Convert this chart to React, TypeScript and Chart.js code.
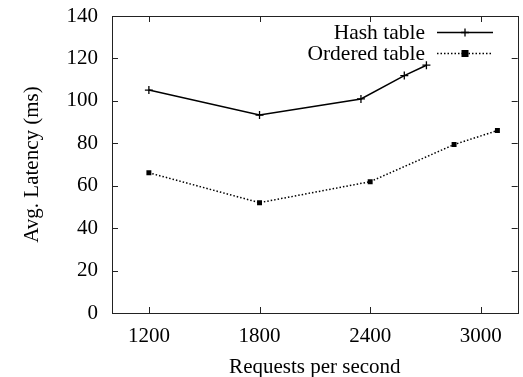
import React, { useEffect, useRef } from "react";
import { Chart, registerables } from "chart.js";

Chart.register(...registerables);

const hashLabel = "Hash table";
const hashX = [1200, 1800, 2350, 2585, 2705];
const hashY = [105.1, 93.3, 100.9, 111.9, 116.8];

const orderedLabel = "Ordered table";
const orderedX = [1200, 1800, 2400, 2855, 3090];
const orderedY = [66.1, 52.0, 61.9, 79.4, 86.0];

const xTicks = [1200, 1800, 2400, 3000];
const xMin = 1000;
const xMax = 3200;
const yMin = 0;
const yMax = 140;
const yStep = 20;

const xTitle = "Requests per second";
const yTitle = "Avg. Latency (ms)";

const FONT = "'Liberation Serif', 'DejaVu Serif', serif";

function drawMarker(ctx: CanvasRenderingContext2D, style: string, x: number, y: number) {
  ctx.save();
  ctx.setLineDash([]);
  ctx.strokeStyle = "#000";
  ctx.fillStyle = "#000";
  ctx.lineWidth = 1.3;
  if (style === "cross") {
    ctx.beginPath();
    ctx.moveTo(x - 4, y);
    ctx.lineTo(x + 4, y);
    ctx.moveTo(x, y - 4);
    ctx.lineTo(x, y + 4);
    ctx.stroke();
  } else {
    ctx.fillRect(x - 3.5, y - 3.5, 7, 7);
  }
  ctx.restore();
}

const framePlugin = {
  id: "frameTicks",
  afterDatasetsDraw(chart: any) {
    const { ctx, chartArea } = chart;
    const { left, right, top, bottom } = chartArea;
    const xs = chart.scales.x;
    const ys = chart.scales.y;
    const tl = 6;
    ctx.save();
    ctx.strokeStyle = "#222";
    ctx.lineWidth = 1;
    ctx.setLineDash([]);
    ctx.beginPath();
    for (const v of xTicks) {
      const px = Math.round(xs.getPixelForValue(v)) + 0.5;
      ctx.moveTo(px, bottom);
      ctx.lineTo(px, bottom - tl);
      ctx.moveTo(px, top);
      ctx.lineTo(px, top + tl);
    }
    for (let v = yMin; v <= yMax; v += yStep) {
      const py = Math.round(ys.getPixelForValue(v)) + 0.5;
      ctx.moveTo(left, py);
      ctx.lineTo(left + tl, py);
      ctx.moveTo(right, py);
      ctx.lineTo(right - tl, py);
    }
    ctx.stroke();
    ctx.strokeRect(Math.round(left) + 0.5, Math.round(top) + 0.5, Math.round(right - left), Math.round(bottom - top));
    ctx.restore();

    // legend
    const rows = [
      { label: hashLabel, dash: [] as number[], marker: "cross", y: 32.5 },
      { label: orderedLabel, dash: [1.5, 2], marker: "rect", y: 53.5 },
    ];
    ctx.save();
    ctx.font = `21.5px ${FONT}`;
    ctx.fillStyle = "#000";
    ctx.textAlign = "right";
    ctx.textBaseline = "middle";
    for (const r of rows) {
      ctx.fillText(r.label, 425, r.y + 1);
      ctx.beginPath();
      ctx.setLineDash(r.dash);
      ctx.lineWidth = 1.5;
      ctx.strokeStyle = "#000";
      ctx.moveTo(437, r.y);
      ctx.lineTo(493, r.y);
      ctx.stroke();
      drawMarker(ctx, r.marker, 465, r.y);
    }
    ctx.restore();
  },
};

export default function App() {
  const ref = useRef<HTMLCanvasElement | null>(null);

  useEffect(() => {
    if (!ref.current) return;
    const chart = new Chart(ref.current, {
      type: "line",
      data: {
        datasets: [
          {
            label: hashLabel,
            data: hashX.map((x, i) => ({ x, y: hashY[i] })),
            borderColor: "#000",
            backgroundColor: "#000",
            borderWidth: 1.5,
            pointStyle: "cross",
            pointRadius: 4,
            pointBorderWidth: 1.3,
            pointBorderColor: "#000",
            tension: 0,
          },
          {
            label: orderedLabel,
            data: orderedX.map((x, i) => ({ x, y: orderedY[i] })),
            borderColor: "#000",
            backgroundColor: "#000",
            borderWidth: 1.5,
            borderDash: [1.5, 2],
            pointStyle: "rect",
            pointRadius: 3.5,
            pointBorderWidth: 0,
            pointBackgroundColor: "#000",
            tension: 0,
          },
        ],
      },
      options: {
        animation: false,
        responsive: false,
        maintainAspectRatio: false,
        layout: { padding: { left: 0, right: 4, top: 16, bottom: 0 } },
        plugins: { legend: { display: false }, tooltip: { enabled: false } },
        scales: {
          x: {
            type: "linear",
            min: xMin,
            max: xMax,
            grid: { display: false, drawTicks: false },
            border: { display: false },
            afterBuildTicks: (s: any) => {
              s.ticks = xTicks.map((v) => ({ value: v }));
            },
            afterFit: (s: any) => {
              s.height = 64;
              s.paddingLeft = 0;
              s.paddingRight = 0;
            },
            ticks: {
              color: "#000",
              font: { family: FONT, size: 21 },
              padding: 11,
              autoSkip: false,
              maxRotation: 0,
              callback: (v: any) => String(v),
            },
            title: {
              display: true,
              text: xTitle,
              color: "#000",
              font: { family: FONT, size: 21, lineHeight: 0.9 },
              padding: { top: 0, bottom: 0 },
            },
          },
          y: {
            type: "linear",
            min: yMin,
            max: yMax,
            grid: { display: false, drawTicks: false },
            border: { display: false },
            afterFit: (s: any) => {
              s.width = 112;
              s.paddingTop = 0;
              s.paddingBottom = 0;
            },
            ticks: {
              stepSize: yStep,
              color: "#000",
              font: { family: FONT, size: 21 },
              padding: 14,
            },
            title: {
              display: true,
              text: yTitle,
              color: "#000",
              font: { family: FONT, size: 21, lineHeight: 1.2 },
              padding: { top: 20, bottom: 0 },
            },
          },
        },
      },
      plugins: [framePlugin],
    });
    return () => chart.destroy();
  }, []);

  return (
    <div style={{ position: "fixed", left: 0, top: 0, width: 523, height: 377, background: "#fff" }}>
      <canvas ref={ref} width={523} height={377} style={{ width: 523, height: 377, display: "block" }} />
    </div>
  );
}
